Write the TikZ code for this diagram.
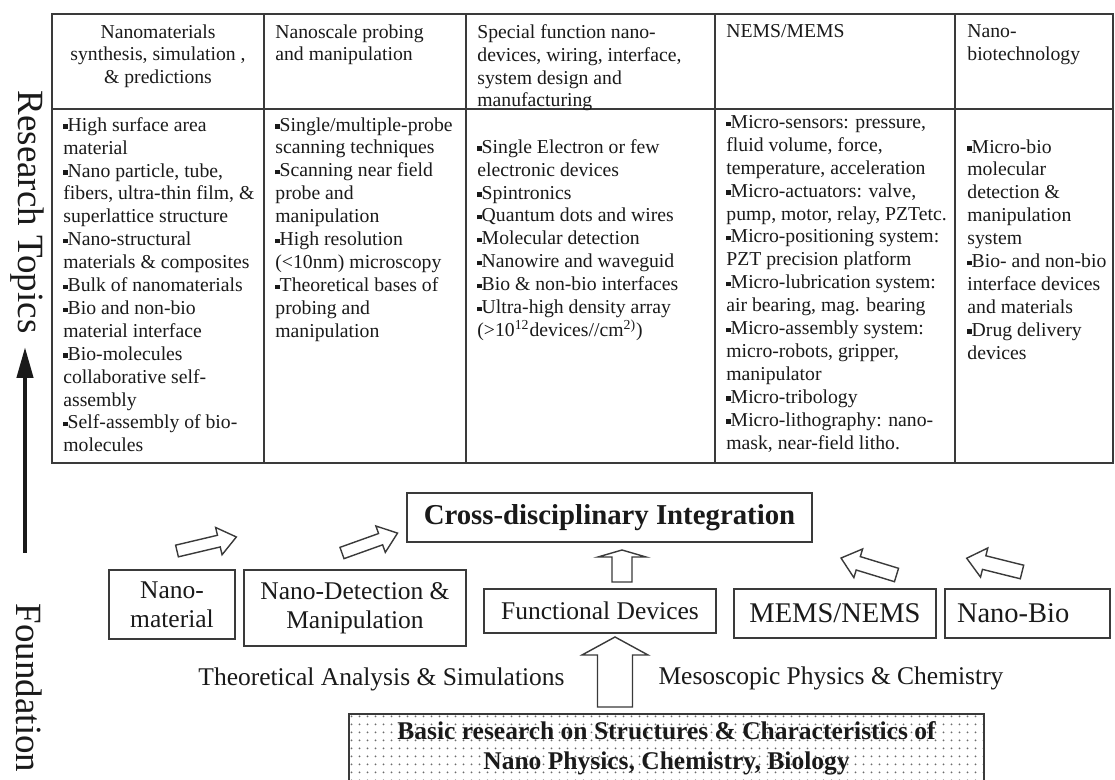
\documentclass[tikz,border=0pt]{standalone}
\usepackage{fontspec}
\setmainfont{Liberation Serif}
\usetikzlibrary{arrows.meta,patterns.meta}
\definecolor{ink}{HTML}{1A1A1A}
\definecolor{rulegray}{HTML}{3A3A3A}
\newcommand{\itm}{\raisebox{0.28ex}{\rule{0.22em}{0.22em}}}
% hollow block arrow: tail point, angle, length, shaft half width, head half width, head length
\newcommand{\hollowarrow}[6]{%
  \draw[blockarrow,shift={#1},rotate=#2]
    (0,-#4) -- ({#3-#6},-#4) -- ({#3-#6},-#5) -- (#3,0)
    -- ({#3-#6},#5) -- ({#3-#6},#4) -- (0,#4) -- cycle;}

\begin{document}
\begin{tikzpicture}[x=0.5pt,y=-0.5pt,
  grid/.style={draw=rulegray,line width=1pt},
  cell/.style={anchor=north west,inner sep=0pt,align=left,text=ink,
    font=\fontsize{9.85}{11.45}\selectfont},
  sidelabel/.style={inner sep=0pt,text=ink,font=\fontsize{18.5}{20}\selectfont},
  box/.style={draw=rulegray,line width=0.9pt,inner sep=0pt,align=center,text=ink,
    font=\fontsize{12.75}{14.5}\selectfont},
  note/.style={inner sep=0pt,text=ink,font=\fontsize{12.75}{14.5}\selectfont},
  blockarrow/.style={draw=rulegray,line width=0.7pt,line join=miter}]
  \path[use as bounding box,fill=white] (0,0) rectangle (1115,780);

  % table frame
  \draw[grid] (52,14) rectangle (1113,463);
  \draw[grid] (52,109) -- (1113,109);
  \foreach \x in {264,466,715,955}
    \draw[grid] (\x,14) -- (\x,463);

  % column heads
  \node[cell,anchor=north,align=center] (head1) at (158,24)
    {Nanomaterials\\synthesis, simulation ,\\\& predictions};
  \node[cell] (head2) at (275,24) {Nanoscale probing\\and manipulation};
  \node[cell] (head3) at (477,24)
    {Special function nano-\\devices, wiring, interface,\\system design and\\manufacturing};
  \node[cell] (head4) at (726,24) {NEMS/MEMS};
  \node[cell] (head5) at (967,24) {Nano-\\biotechnology};

  % column bodies
  \node[cell] (body1) at (63,117)
    {\itm High surface area\\material\\\itm Nano particle, tube,\\fibers, ultra-thin film, \&\\
     superlattice structure\\\itm Nano-structural\\materials \& composites\\
     \itm Bulk of nanomaterials\\\itm Bio and non-bio\\material interface\\
     \itm Bio-molecules\\collaborative self-\\assembly\\\itm Self-assembly of bio-\\molecules};
  \node[cell] (body2) at (275,117)
    {\itm Single/multiple-probe\\scanning techniques\\\itm Scanning near field\\probe and\\
     manipulation\\\itm High resolution\\(<10nm) microscopy\\\itm Theoretical bases of\\
     probing and\\manipulation};
  \node[cell] (body3) at (477,139)
    {\itm Single Electron or few\\electronic devices\\\itm Spintronics\\
     \itm Quantum dots and wires\\\itm Molecular detection\\\itm Nanowire and waveguid\\
     \itm Bio \& non-bio interfaces\\\itm Ultra-high density array\\
     (>10\textsuperscript{12}devices//cm\textsuperscript{2)})};
  \node[cell] (body4) at (726,115)
    {\itm Micro-sensors: pressure,\\fluid volume, force,\\temperature, acceleration\\
     \itm Micro-actuators: valve,\\pump, motor, relay, PZTetc.\\
     \itm Micro-positioning system:\\PZT precision platform\\
     \itm Micro-lubrication system:\\air bearing, mag. bearing\\
     \itm Micro-assembly system:\\micro-robots, gripper,\\manipulator\\
     \itm Micro-tribology\\\itm Micro-lithography: nano-\\mask, near-field litho.};
  \node[cell] (body5) at (967,139)
    {\itm Micro-bio\\molecular\\detection \&\\manipulation\\system\\
     \itm Bio- and non-bio\\interface devices\\and materials\\\itm Drug delivery\\devices};

  % side labels and axis
  \node[sidelabel,rotate=-90] (topics) at (27,212) {Research Topics};
  \node[sidelabel,rotate=-90] (found) at (29,688) {Foundation};
  \coordinate (axis bot) at (25,553);
  \coordinate (axis top) at (25,347);
  \draw[ink,line width=2.2pt,-{Triangle[length=15.5pt,width=8pt]}] (axis bot) -- (axis top);

  % foundation boxes
  \node[box,minimum width=63pt,minimum height=34.5pt] (material) at (172,604.5)
    {Nano-\\material};
  \node[box,minimum width=111pt,minimum height=38pt] (detect) at (355,608)
    {Nano-Detection \&\\Manipulation};
  \node[box,minimum width=202.5pt,minimum height=24.5pt,
    font=\bfseries\fontsize{14.4}{16}\selectfont] (cross) at (609.5,517.5)
    {Cross-disciplinary Integration};
  \node[box,minimum width=116pt,minimum height=22pt] (func) at (600,611)
    {Functional Devices};
  \node[box,minimum width=101pt,minimum height=24.5pt,
    font=\fontsize{14.25}{16}\selectfont] (mems) at (835,613.5) {MEMS/NEMS};
  \node[box,minimum width=82.5pt,minimum height=24.5pt,text width=70.5pt,align=left,
    font=\fontsize{14.25}{16}\selectfont] (bio) at (1027.5,613.5) {Nano-Bio};
  \node[box,minimum width=317.5pt,minimum height=34pt,
    pattern={Dots[distance=4pt,radius=0.55pt]},pattern color=gray!85!black,
    font=\bfseries\fontsize{12.75}{15}\selectfont] (basic) at (666.5,748)
    {Basic research on Structures \& Characteristics of\\Nano Physics, Chemistry, Biology};

  \node[note] (theory) at (381.5,679) {Theoretical Analysis \& Simulations};
  \node[note] (meso) at (831,678) {Mesoscopic Physics \& Chemistry};

  % hollow arrows
  \hollowarrow{(177,551)}{13.3}{61}{6}{14}{18}
  \hollowarrow{(342,553)}{19.7}{59}{6}{14}{18}
  \hollowarrow{(896.5,575)}{163}{58}{7}{15}{18}
  \hollowarrow{(1022,572)}{166}{57}{7}{15}{18}
  \hollowarrow{(622,582)}{90}{32}{10}{24}{7}
  \hollowarrow{(615,707)}{90}{70}{17.5}{33}{18}
\end{tikzpicture}
\end{document}
